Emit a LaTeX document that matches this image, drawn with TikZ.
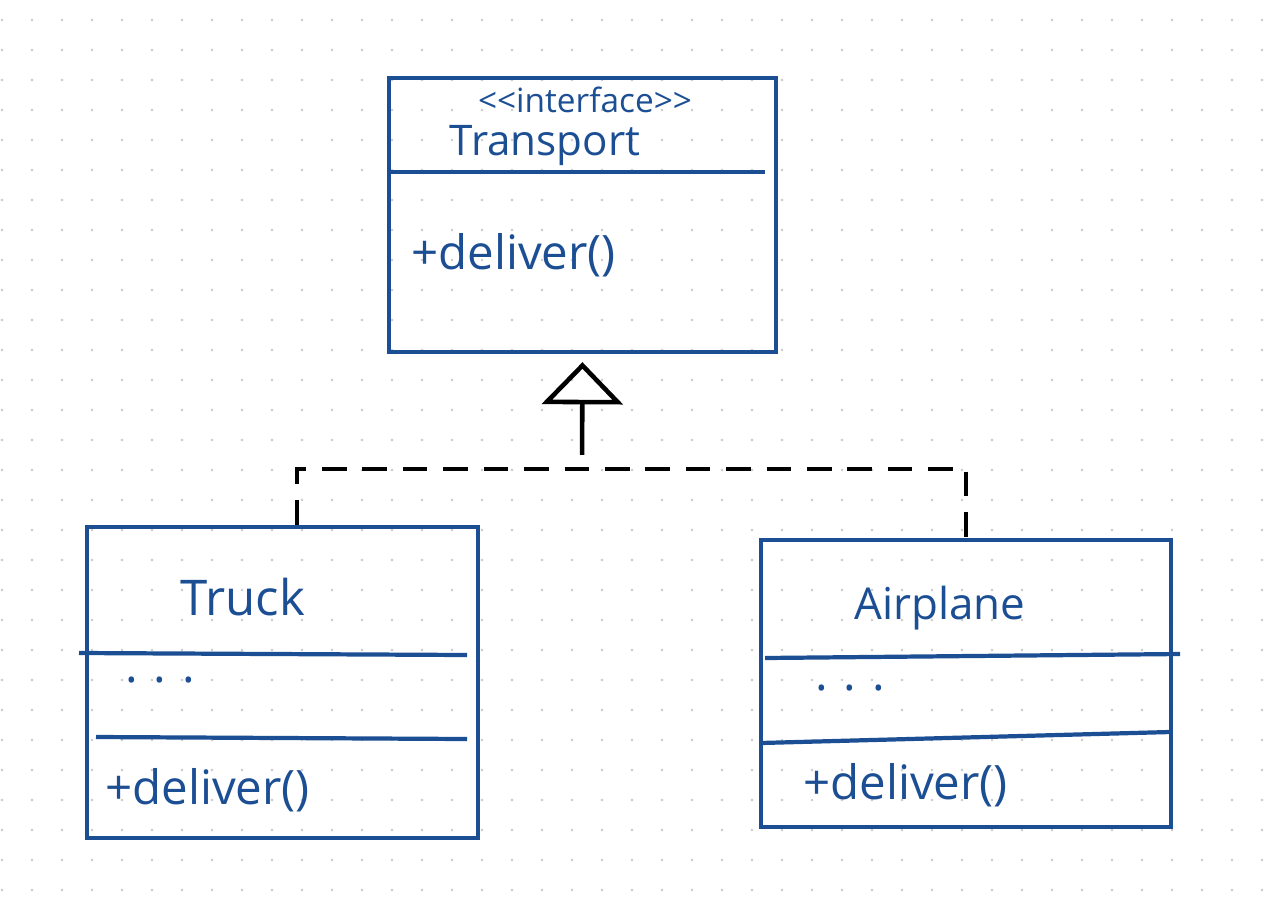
\documentclass[tikz,border=0pt]{standalone}
\usepackage{fontspec}
\setmainfont{Open Sans}
\usetikzlibrary{arrows.meta}
\definecolor{ink}{HTML}{1C4E94}
\definecolor{griddot}{HTML}{C8C8C8}
\begin{document}
\begin{tikzpicture}[x=0.02cm,y=-0.02cm,
    classbox/.style={draw=ink, line width=2.6pt, rectangle, inner sep=0pt},
    sepline/.style={draw=ink, line width=2.4pt},
    handtext/.style={text=ink, inner sep=0pt, font=\fontsize{24}{26}\selectfont},
    optext/.style={text=ink, inner sep=0pt, font=\fontsize{27}{29}\selectfont},
    smalltext/.style={text=ink, inner sep=0pt, font=\fontsize{19}{21}\selectfont},
    realize/.style={draw=black, line width=2.8pt, dash pattern=on 14pt off 9pt},
    stem/.style={draw=black, line width=2.6pt, -{Triangle[open, length=24pt, width=46pt, line width=2.6pt]}}]
\useasboundingbox[fill=white] (0,0) rectangle (1280,906);

\foreach \i in {0,...,42} {
  \foreach \j in {0,...,29} {\fill[griddot] (2+30*\i,20+30*\j) circle (0.8pt);}
}

\node[classbox, minimum width=7.74cm, minimum height=5.48cm] (transport) at (582.5,215) {};
\node[classbox, minimum width=7.82cm, minimum height=6.22cm] (truck) at (282.5,682.5) {};
\node[classbox, minimum width=8.2cm, minimum height=5.74cm] (airplane) at (966,683.5) {};

\draw[sepline] (391,172) -- (765,172);
\draw[sepline] (79,653) -- (467,655);
\draw[sepline] (96,737) -- (467,739);
\draw[sepline] (765,658) -- (1180,654);
\draw[sepline] (761,743) -- (1170,732);

\node[smalltext] (stereo) at (585,100) {{<}{<}interface{>}{>}};
\node[handtext] (transport-name) at (545,146) {Transport};
\node[optext, anchor=west] (transport-op) at (411,255) {+deliver()};

\node[handtext, font=\fontsize{28}{30}\selectfont] (truck-name) at (243,597) {Truck};
\node[optext, anchor=west] (truck-attr) at (125,680) {.\,\,.\,\,.};
\node[optext, anchor=west] (truck-op) at (105,790) {+deliver()};

\node[handtext, font=\fontsize{25}{27}\selectfont] (airplane-name) at (940,608) {Airplane};
\node[optext, anchor=west] (airplane-attr) at (815,688) {.\,\,.\,\,.};
\node[optext, anchor=west] (airplane-op) at (803,785) {+deliver()};

\coordinate (join) at (582,469);
\draw[realize] ([xshift=0.29cm]truck.north) |- (join) -| (airplane.north);
\draw[stem, shorten <=8pt, shorten >=4.5pt] (join) -- (transport.south);
\end{tikzpicture}
\end{document}
